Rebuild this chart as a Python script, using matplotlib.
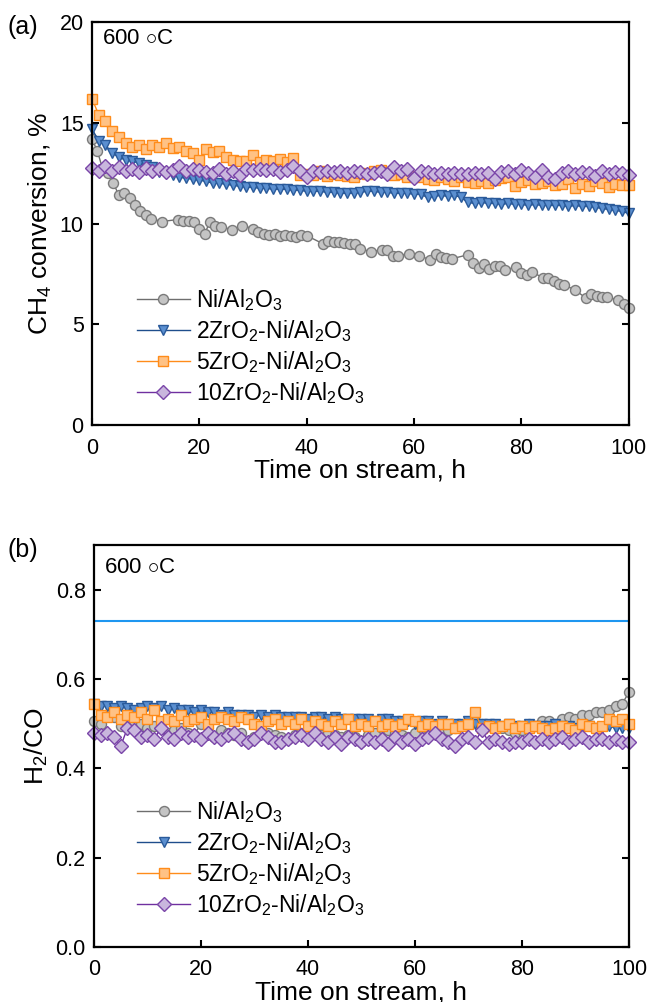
import matplotlib
matplotlib.use('Agg')
import matplotlib.pyplot as plt

plt.rcParams['font.family'] = ['Liberation Sans', 'DejaVu Sans']
plt.rcParams['mathtext.fontset'] = 'custom'
plt.rcParams['mathtext.rm'] = 'Liberation Sans'
plt.rcParams['mathtext.it'] = 'Liberation Sans'

# Sampling times (h) for the ZrO2 catalysts, one reading every 1.25 h
hours = [i * 1.25 for i in range(81)]

# (a) CH4 conversion, %
ni_hours_a = [0, 1, 2, 3, 4, 5, 6, 7, 8, 9, 10, 11,
              13, 16, 17, 18, 19, 20, 21, 22, 23, 24,
              26, 28, 30, 31, 32, 33, 34, 35, 36, 37, 38, 39, 40,
              43, 44, 45, 46, 47, 48, 49, 50,
              52, 54, 55, 56, 57, 59, 61, 63, 64, 65, 66, 67,
              70, 71, 72, 73, 74, 75, 76, 77,
              79, 80, 81, 82, 84, 85, 86, 87, 88,
              90, 92, 93, 94, 95, 96, 98, 99, 100]
ni_conv = [14.2, 13.6, 12.7, 12.5, 12.0, 11.4, 11.5, 11.25, 10.9, 10.6, 10.4, 10.25,
           10.1, 10.2, 10.15, 10.15, 10.1, 9.75, 9.5, 10.1, 9.9, 9.85,
           9.7, 9.9, 9.75, 9.6, 9.5, 9.45, 9.5, 9.4, 9.45, 9.4, 9.35, 9.45, 9.4,
           9.0, 9.15, 9.1, 9.1, 9.05, 9.0, 9.0, 8.75,
           8.6, 8.7, 8.7, 8.4, 8.4, 8.5, 8.4, 8.2, 8.5, 8.35, 8.3, 8.25,
           8.45, 8.05, 7.8, 8.0, 7.75, 7.9, 7.9, 7.7,
           7.85, 7.55, 7.45, 7.6, 7.3, 7.3, 7.15, 7.0, 6.95,
           6.7, 6.3, 6.5, 6.4, 6.35, 6.35, 6.2, 6.0, 5.8]
zr2_conv = [14.7, 14.1, 13.9, 13.5, 13.3, 13.15, 13.1, 13.0, 12.9, 12.8,
            12.55, 12.5, 12.4, 12.3, 12.25, 12.2, 12.15, 12.1, 12.0, 12.0,
            11.95, 11.9, 11.85, 11.8, 11.8, 11.75, 11.75, 11.7, 11.7, 11.7,
            11.65, 11.65, 11.6, 11.6, 11.6, 11.55, 11.55, 11.5, 11.5, 11.5,
            11.55, 11.6, 11.6, 11.55, 11.55, 11.5, 11.5, 11.5, 11.45, 11.45,
            11.3, 11.35, 11.4, 11.35, 11.4, 11.3, 11.05, 11.0, 11.05, 11.0,
            11.0, 10.95, 11.0, 10.95, 10.95, 10.9, 10.95, 10.9, 10.9, 10.9,
            10.9, 10.85, 10.9, 10.85, 10.85, 10.8, 10.75, 10.7, 10.65, 10.6,
            10.5]
zr5_conv = [16.2, 15.4, 15.1, 14.6, 14.3, 14.0, 13.8, 13.9, 13.7, 13.9,
            13.8, 14.0, 13.75, 13.8, 13.6, 13.5, 13.15, 13.7, 13.55, 13.6,
            13.3, 13.15, 13.1, 13.1, 13.4, 13.05, 13.15, 13.1, 13.2, 13.05,
            13.25, 12.4, 12.45, 12.4, 12.6, 12.35, 12.45, 12.4, 12.35, 12.3,
            12.5, 12.45, 12.6, 12.65, 12.55, 12.4, 12.45, 12.3, 12.35, 12.3,
            12.2, 12.15, 12.3, 12.2, 12.1, 12.3, 12.05, 12.0, 12.1, 12.0,
            12.15, 12.25, 12.3, 11.85, 12.05, 12.15, 11.95, 12.0, 12.1, 11.9,
            11.95, 12.2, 11.75, 11.95, 11.85, 12.1, 12.0, 11.8, 11.95, 11.9,
            11.9]
zr10_conv = [12.75, 12.6, 12.85, 12.6, 12.8, 12.6, 12.7, 12.55, 12.75, 12.6,
             12.7, 12.55, 12.65, 12.85, 12.6, 12.7, 12.65, 12.55, 12.5, 12.7,
             12.45, 12.6, 12.4, 12.7, 12.65, 12.7, 12.65, 12.7, 12.55, 12.65,
             12.85, 12.6, 12.3, 12.6, 12.55, 12.6, 12.55, 12.6, 12.5, 12.6,
             12.55, 12.45, 12.5, 12.6, 12.45, 12.8, 12.6, 12.7, 12.25, 12.6,
             12.55, 12.45, 12.5, 12.45, 12.5, 12.45, 12.45, 12.5, 12.45, 12.5,
             12.2, 12.55, 12.6, 12.45, 12.65, 12.5, 12.3, 12.65, 12.3, 12.2,
             12.5, 12.6, 12.45, 12.55, 12.5, 12.35, 12.6, 12.45, 12.55, 12.5,
             12.4]

# (b) H2/CO ratio
ni_ratio = [0.505, 0.50, 0.52, 0.515, 0.495, 0.50, 0.505, 0.50, 0.49, 0.495,
            0.49, 0.48, 0.485, 0.49, 0.48, 0.475, 0.50, 0.48, 0.47, 0.485,
            0.48, 0.475, 0.48, 0.46, 0.47, 0.485, 0.48, 0.475, 0.47, 0.465,
            0.475, 0.48, 0.485, 0.48, 0.475, 0.48, 0.475, 0.47, 0.475, 0.47,
            0.46, 0.475, 0.48, 0.49, 0.485, 0.48, 0.475, 0.47, 0.48, 0.49,
            0.49, 0.48, 0.48, 0.485, 0.49, 0.495, 0.50, 0.505, 0.50, 0.495,
            0.495, 0.49, 0.485, 0.48, 0.485, 0.50, 0.495, 0.505, 0.505, 0.50,
            0.51, 0.515, 0.51, 0.52, 0.52, 0.525, 0.525, 0.53, 0.54, 0.545,
            0.57]
zr2_ratio = [0.545, 0.54, 0.54, 0.535, 0.54, 0.535, 0.53, 0.535, 0.54, 0.535,
             0.54, 0.53, 0.535, 0.53, 0.53, 0.525, 0.53, 0.525, 0.525, 0.52,
             0.525, 0.52, 0.52, 0.52, 0.515, 0.52, 0.515, 0.52, 0.515, 0.515,
             0.515, 0.515, 0.51, 0.515, 0.515, 0.51, 0.515, 0.51, 0.51, 0.51,
             0.51, 0.51, 0.505, 0.51, 0.51, 0.505, 0.505, 0.505, 0.50, 0.505,
             0.505, 0.50, 0.505, 0.50, 0.50, 0.50, 0.505, 0.50, 0.50, 0.50,
             0.50, 0.495, 0.50, 0.495, 0.495, 0.50, 0.495, 0.495, 0.495, 0.50,
             0.495, 0.495, 0.49, 0.495, 0.495, 0.49, 0.49, 0.495, 0.49, 0.49,
             0.49]
zr5_ratio = [0.545, 0.52, 0.515, 0.525, 0.51, 0.52, 0.515, 0.525, 0.51, 0.53,
             0.505, 0.51, 0.505, 0.52, 0.505, 0.51, 0.515, 0.50, 0.51, 0.515,
             0.51, 0.505, 0.515, 0.51, 0.50, 0.495, 0.505, 0.51, 0.50, 0.505,
             0.50, 0.51, 0.495, 0.505, 0.50, 0.495, 0.505, 0.50, 0.51, 0.495,
             0.50, 0.495, 0.505, 0.495, 0.50, 0.495, 0.50, 0.51, 0.505, 0.495,
             0.50, 0.495, 0.50, 0.50, 0.49, 0.495, 0.50, 0.525, 0.49, 0.495,
             0.49, 0.495, 0.50, 0.49, 0.495, 0.49, 0.495, 0.49, 0.485, 0.49,
             0.495, 0.49, 0.485, 0.50, 0.495, 0.49, 0.495, 0.51, 0.505, 0.51,
             0.50]
zr10_ratio = [0.48, 0.475, 0.48, 0.47, 0.45, 0.49, 0.485, 0.47, 0.475, 0.465,
              0.49, 0.47, 0.465, 0.48, 0.47, 0.475, 0.465, 0.48, 0.47, 0.465,
              0.475, 0.48, 0.465, 0.46, 0.465, 0.48, 0.47, 0.46, 0.46, 0.465,
              0.47, 0.475, 0.465, 0.48, 0.465, 0.46, 0.47, 0.455, 0.47, 0.465,
              0.46, 0.465, 0.46, 0.465, 0.455, 0.47, 0.46, 0.465, 0.455, 0.465,
              0.47, 0.48, 0.465, 0.46, 0.45, 0.465, 0.47, 0.46, 0.485, 0.46,
              0.465, 0.46, 0.455, 0.46, 0.46, 0.465, 0.46, 0.465, 0.46, 0.465,
              0.47, 0.46, 0.465, 0.47, 0.46, 0.465, 0.465, 0.46, 0.465, 0.46,
              0.46]
ref_ratio = 0.73  # equilibrium / reference line

labels = [r'Ni/Al$\mathregular{_2}$O$\mathregular{_3}$',
          r'2ZrO$\mathregular{_2}$-Ni/Al$\mathregular{_2}$O$\mathregular{_3}$',
          r'5ZrO$\mathregular{_2}$-Ni/Al$\mathregular{_2}$O$\mathregular{_3}$',
          r'10ZrO$\mathregular{_2}$-Ni/Al$\mathregular{_2}$O$\mathregular{_3}$']

# line colour, marker, marker size, face colour, edge colour
styles = [('#6e6e6e', 'o', 7.2, '#c4c4c4', '#7a7a7a'),
          ('#1f4e8c', 'v', 7.8, '#5b8fd0', '#2a5a9a'),
          ('#ff8c1a', 's', 6.8, '#ffc285', '#ff8c1a'),
          ('#7030a0', 'D', 7.0, '#c9b6dd', '#7a45a8')]


def style_axes(ax, ylim, yticks, yfmt):
    ax.set_xlim(0, 100)
    ax.set_ylim(*ylim)
    ax.set_xticks([0, 20, 40, 60, 80, 100])
    ax.set_yticks(yticks)
    ax.set_yticklabels([yfmt.format(v) for v in yticks])
    ax.tick_params(direction='in', length=5, width=1.5, labelsize=15.5,
                   right=True, top=False)
    ax.tick_params(axis='x', pad=9)
    ax.tick_params(axis='y', pad=6)
    for sp in ax.spines.values():
        sp.set_linewidth(1.6)
    ax.set_xlabel('Time on stream, h', fontsize=19, labelpad=0)


fig = plt.figure(figsize=(6.5, 10.02), dpi=100)
ax1 = fig.add_axes([0.1415, 0.5758, 0.826, 0.4022])
ax2 = fig.add_axes([0.1446, 0.0549, 0.823, 0.4012])

series_a = [(ni_hours_a, ni_conv), (hours, zr2_conv), (hours, zr5_conv), (hours, zr10_conv)]
for (x, y), lab, (lc, m, ms, fc, ec) in zip(series_a, labels, styles):
    ax1.plot(x, y, color=lc, lw=1.0, marker=m, ms=ms,
             mfc=fc, mec=ec, mew=1.0, label=lab, clip_on=False)

series_b = [ni_ratio, zr2_ratio, zr5_ratio, zr10_ratio]
for y, lab, (lc, m, ms, fc, ec) in zip(series_b, labels, styles):
    ax2.plot(hours, y, color=lc, lw=1.0, marker=m, ms=ms,
             mfc=fc, mec=ec, mew=1.0, label=lab, clip_on=False)
ax2.axhline(ref_ratio, color='#1e96f0', lw=1.5)

style_axes(ax1, (0, 20), [0, 5, 10, 15, 20], '{:g}')
style_axes(ax2, (0, 0.9), [0.0, 0.2, 0.4, 0.6, 0.8], '{:.1f}')
ax1.set_ylabel('CH$\mathregular{_4}$ conversion, %', fontsize=19, labelpad=4)
ax2.set_ylabel('H$\mathregular{_2}$/CO', fontsize=19, labelpad=4)

for ax, anchor, ty in ((ax1, (0.067, 0.365), 0.958), (ax2, (0.064, 0.39), 0.945)):
    ax.legend(loc='upper left', bbox_to_anchor=anchor, frameon=False,
              fontsize=16.5, handlelength=2.3, handletextpad=0.26,
              labelspacing=0.22, borderaxespad=0)
    ax.text(0.018, ty, '600 $\circ$C', transform=ax.transAxes,
            fontsize=16, va='center', ha='left')

fig.text(0.012, 1 - 27 / 1002, '(a)', fontsize=18, va='center', ha='left')
fig.text(0.012, 1 - 550 / 1002, '(b)', fontsize=18, va='center', ha='left')

fig.savefig('out.png', dpi=100)
